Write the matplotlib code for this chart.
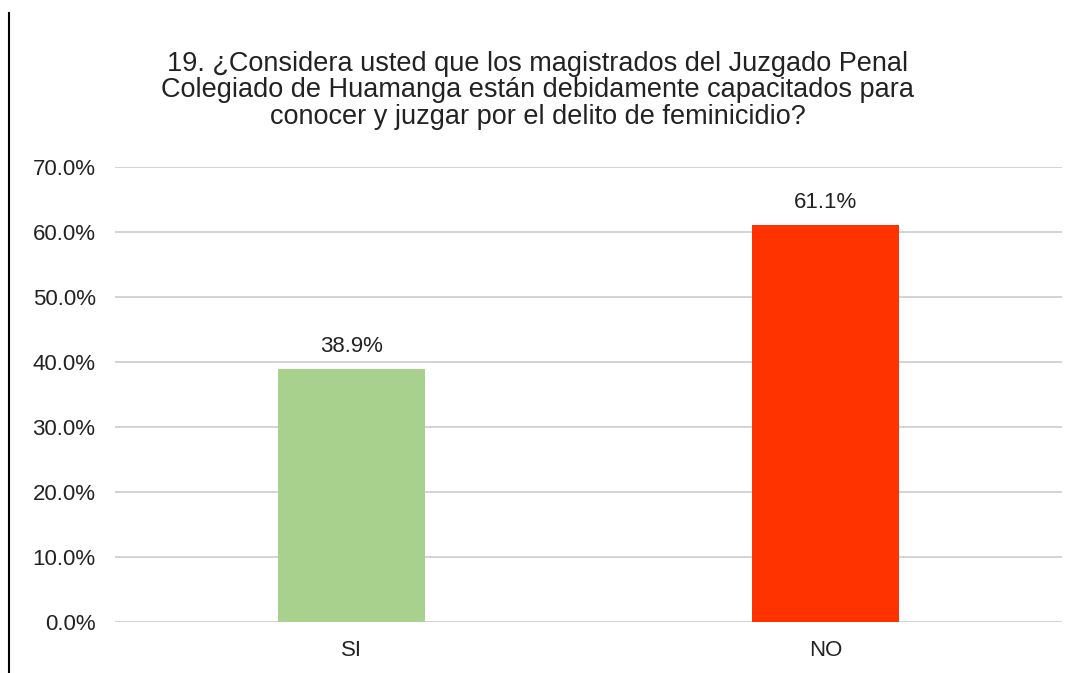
import matplotlib.pyplot as plt
from matplotlib.lines import Line2D
from matplotlib.ticker import FuncFormatter

plt.rcParams['font.family'] = ['Liberation Sans', 'DejaVu Sans']

# datos
categorias = ["SI", "NO"]
porcentajes = [38.9, 61.1]
colores = ["#a9d18e", "#ff3300"]
titulo = ("19. ¿Considera usted que los magistrados del Juzgado Penal\n"
          "Colegiado de Huamanga están debidamente capacitados para\n"
          "conocer y juzgar por el delito de feminicidio?")

fig = plt.figure(figsize=(10.75, 6.73), dpi=100)
ax = fig.add_axes([0.107, 0.0758, 0.881, 0.676])

x = range(len(categorias))
bars = ax.bar(x, porcentajes, width=0.31, color=colores, zorder=3)
for b, v in zip(bars, porcentajes):
    ax.text(b.get_x() + b.get_width() / 2, v + 1.8, "{:.1f}%".format(v),
            ha="center", va="bottom", fontsize=16, color="#222222")

ax.set_xlim(-0.5, 1.5)
ax.set_ylim(0, 70)
ax.set_yticks(range(0, 71, 10))
ax.yaxis.set_major_formatter(FuncFormatter(lambda v, p: "{:.1f}%".format(v)))
ax.set_xticks(list(x), categorias)
ax.grid(axis="y", color="#d0d0d0", linewidth=1.3, zorder=0)
for s in ax.spines.values():
    s.set_visible(False)
ax.tick_params(length=0, labelsize=16, labelcolor="#222222")
ax.tick_params(axis="y", pad=14)
ax.tick_params(axis="x", pad=13)

fig.text(0.5, 0.866, titulo, ha="center", va="center", fontsize=19.5,
         linespacing=1.02, color="#222222")

fig.add_artist(Line2D([9 / 1075, 9 / 1075], [0, 1 - 13 / 673],
                      transform=fig.transFigure, color="black", linewidth=1.5))

fig.savefig("out.png", dpi=100)
